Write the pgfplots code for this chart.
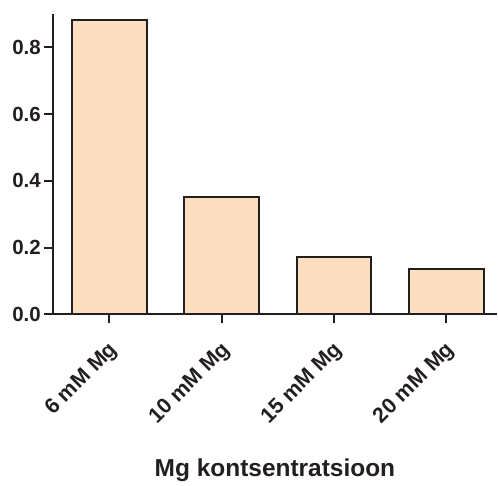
\documentclass[border=0pt]{standalone}
\usepackage{fontspec}
\setmainfont{Liberation Sans}
\usepackage{pgfplots}
\pgfplotsset{compat=1.18}
\definecolor{barfill}{RGB}{252,223,193}
\definecolor{ink}{RGB}{35,31,32}
\begin{document}
\begin{tikzpicture}
\begin{axis}[
  scale only axis,
  width=445bp, height=301bp,
  xmin=-0.5, xmax=3.45,
  ymin=0, ymax=0.9,
  axis x line*=bottom,
  axis y line*=left,
  axis line style={line width=2bp, ink},
  every tick/.style={line width=2bp, ink},
  tick align=outside,
  major tick length=9bp,
  xtick={0,1,2,3},
  xticklabels={6 mM Mg,10 mM Mg,15 mM Mg,20 mM Mg},
  ytick={0,0.2,0.4,0.6,0.8},
  yticklabel style={/pgf/number format/.cd, fixed, fixed zerofill, precision=1, /tikz/.cd},
  /pgf/number format/assume math mode=true,
  yticklabel style={font=\fontsize{20.5bp}{23bp}\selectfont\bfseries, text=ink, inner sep=0pt, xshift=-3bp},
  xticklabel style={font=\fontsize{21.5bp}{24bp}\selectfont\bfseries, text=ink, inner sep=1pt, xshift=6bp, yshift=-23bp, rotate=45, anchor=east},
  xlabel={Mg kontsentratsioon},
  xlabel style={font=\fontsize{24.5bp}{28bp}\selectfont\bfseries, text=ink, yshift=-27bp},
  clip=false,
]
\addplot[ybar, bar width=75bp, fill=barfill, draw=ink, line width=2bp] coordinates {
  (0,0.881) (1,0.351) (2,0.171) (3,0.135)
};
\end{axis}
\useasboundingbox ([xshift=-53bp,yshift=-164bp]current axis.south west) rectangle ([yshift=14bp]current axis.north east);
\end{tikzpicture}
\end{document}
